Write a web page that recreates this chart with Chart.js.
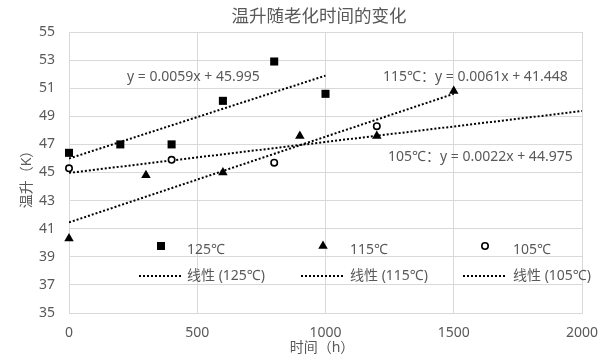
<!DOCTYPE html>
<html>
<head>
<meta charset="utf-8">
<script src="https://cdn.jsdelivr.net/npm/chart.js@4.4.1/dist/chart.umd.min.js"></script>
<style>
  body { margin: 0; background: #fff; }
  canvas { display: block; }
</style>
</head>
<body>
<canvas id="chart" width="616" height="359"></canvas>
<script>
// data
const seriesNames = ["125℃", "115℃", "105℃"];
const hours125 = [0, 200, 400, 600, 800, 1000];
const rise125 = [46.4, 47.0, 47.0, 50.1, 52.9, 50.6];
const hours115 = [0, 300, 600, 900, 1200, 1500];
const rise115 = [40.3, 44.8, 45.0, 47.6, 47.6, 50.8];
const hours105 = [0, 400, 800, 1200];
const rise105 = [45.3, 45.9, 45.7, 48.3];

// linear trendlines (Excel fit), drawn from x=0 to the end value
const trendSlopes = [0.0059, 0.0061, 0.0022];
const trendIntercepts = [45.995, 41.448, 44.975];
const trendEnds = [1000, 1500, 2000];
const equationPrefixes = ["", "115℃：", "105℃："];

const xMin = 0, xMax = 2000, xStep = 500;
const yMin = 35, yMax = 55, yStep = 2;

const FONT = "'Noto Sans', 'Noto Sans CJK SC', sans-serif";
const GRAY = "#595959";
const GRID = "#d9d9d9";

const hours = [hours125, hours115, hours105];
const rises = [rise125, rise115, rise105];
const markers = [
    { pointStyle: "rect", radius: 5.7, fill: "#000", borderWidth: 0 },
    { pointStyle: "triangle", radius: 5.5, fill: "#000", borderWidth: 0 },
    { pointStyle: "circle", radius: 3.2, fill: "#fff", borderWidth: 1.6 }
];

let datasets = [];
seriesNames.forEach((name, i) => {
    datasets.push({
        type: "scatter",
        label: name,
        data: hours[i].map((h, j) => ({ x: h, y: rises[i][j] })),
        pointStyle: markers[i].pointStyle,
        pointRadius: markers[i].radius,
        pointHoverRadius: markers[i].radius,
        pointBackgroundColor: markers[i].fill,
        pointBorderColor: "#000",
        pointBorderWidth: markers[i].borderWidth,
        clip: false,
        order: 0
    });
});
seriesNames.forEach((name, i) => {
    datasets.push({
        type: "line",
        label: "线性 (" + name + ")",
        data: [
            { x: 0, y: trendIntercepts[i] },
            { x: trendEnds[i], y: trendIntercepts[i] + trendSlopes[i] * trendEnds[i] }
        ],
        borderColor: "#000",
        borderWidth: 2,
        borderDash: [2, 2],
        pointRadius: 0,
        fill: false,
        order: 1
    });
});

function equationText(i) {
    return equationPrefixes[i] + "y = " + trendSlopes[i].toFixed(4) + "x + " + trendIntercepts[i].toFixed(3);
}

// titles, trendline equations and the in-plot legend
const decorations = {
    id: "decorations",
    afterDraw(chart) {
        const ctx = chart.ctx;
        ctx.save();
        ctx.fillStyle = GRAY;
        ctx.textBaseline = "middle";

        // chart title
        ctx.font = "17.5px " + FONT;
        ctx.textAlign = "center";
        ctx.fillText("温升随老化时间的变化", 319, 17);

        // axis titles
        ctx.font = "14px " + FONT;
        ctx.fillText("时间（h）", 322, 348);
        ctx.save();
        ctx.translate(27, 176);
        ctx.rotate(-Math.PI / 2);
        ctx.fillText("温升（K）", 0, 0);
        ctx.restore();

        // equations
        ctx.textAlign = "left";
        const eqPos = [[127, 77], [383, 77], [388, 157]];
        seriesNames.forEach((n, i) => {
            ctx.fillText(equationText(i), eqPos[i][0], eqPos[i][1]);
        });

        // legend
        const colX = [161, 323, 485];
        const textX = [187, 350, 513];
        seriesNames.forEach((name, i) => {
            ctx.fillStyle = markers[i].fill;
            ctx.strokeStyle = "#000";
            ctx.lineWidth = markers[i].borderWidth;
            Chart.helpers.drawPoint(ctx, {
                pointStyle: markers[i].pointStyle,
                radius: markers[i].radius,
                rotation: 0,
                borderWidth: markers[i].borderWidth
            }, colX[i], 246);

            ctx.fillStyle = GRAY;
            ctx.fillText(name, textX[i], 250);

            ctx.beginPath();
            ctx.strokeStyle = "#000";
            ctx.lineWidth = 2;
            ctx.setLineDash([2, 2]);
            ctx.moveTo(colX[i] - 22, 276);
            ctx.lineTo(colX[i] + 20, 276);
            ctx.stroke();
            ctx.setLineDash([]);
            ctx.fillText("线性 (" + name + ")", textX[i], 276);
        });
        ctx.restore();
    }
};

new Chart(document.getElementById("chart"), {
    data: { datasets: datasets },
    options: {
        responsive: false,
        animation: false,
        devicePixelRatio: 1,
        layout: { padding: { top: 32, right: 34, left: 0, bottom: 0 } },
        plugins: {
            legend: { display: false },
            title: { display: false },
            tooltip: { enabled: false }
        },
        scales: {
            x: {
                type: "linear",
                min: xMin,
                max: xMax,
                ticks: {
                    stepSize: xStep, padding: 12, color: GRAY,
                    font: { family: FONT, size: 14 },
                    callback: v => String(v)
                },
                grid: { color: GRID, drawTicks: false },
                border: { color: GRID },
                afterFit: function (s) { s.height = 46; }
            },
            y: {
                type: "linear",
                min: yMin,
                max: yMax,
                ticks: { stepSize: yStep, padding: 14, color: GRAY, font: { family: FONT, size: 14 } },
                grid: { color: GRID, drawTicks: false },
                border: { color: GRID },
                afterFit: function (s) { s.width = 69; }
            }
        }
    },
    plugins: [decorations]
});
</script>
</body>
</html>
